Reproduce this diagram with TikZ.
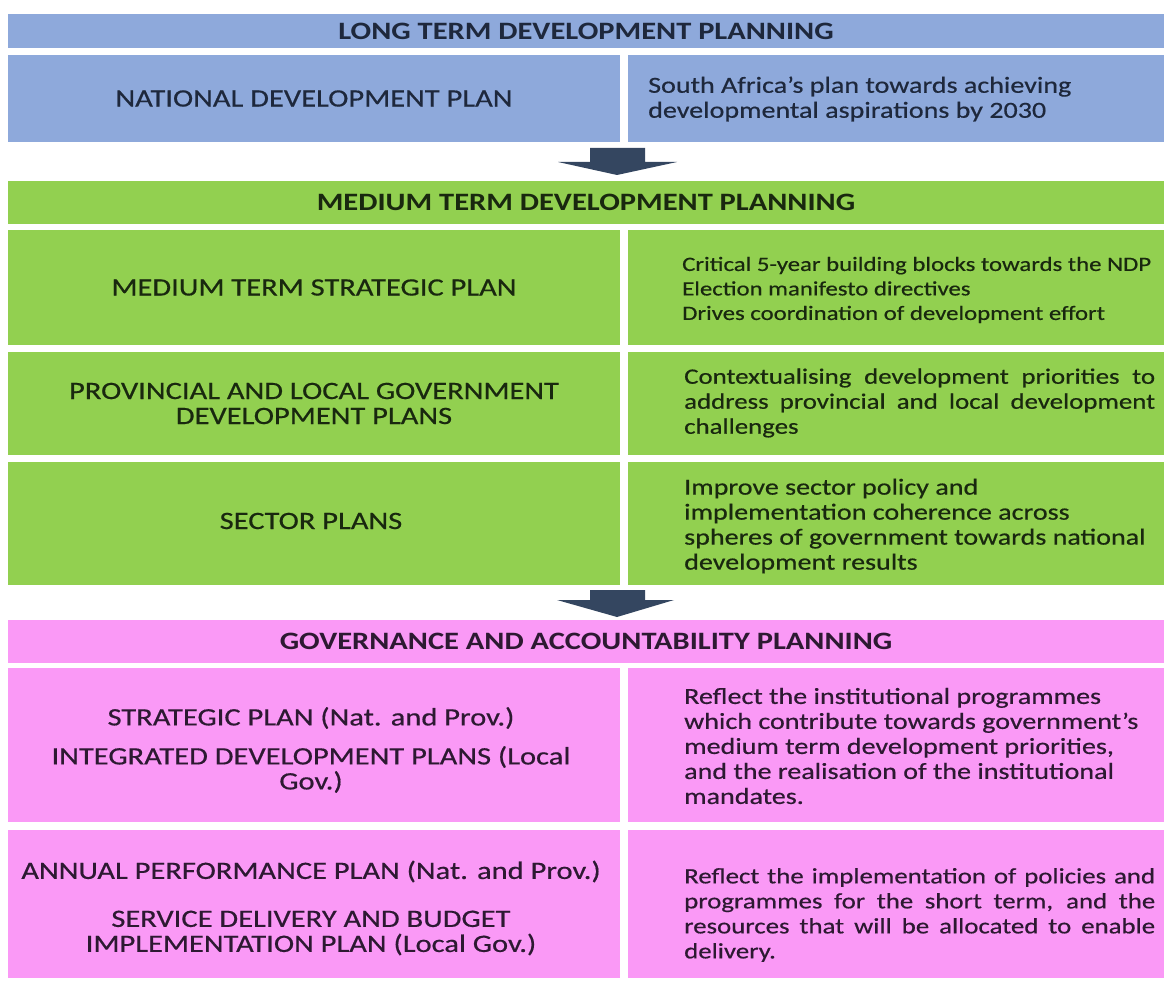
\documentclass[tikz,border=0pt]{standalone}
\usepackage{fontspec}
\setmainfont{Carlito}[FakeStretch=1.22]
\newfontfamily\bodyf{Carlito}[FakeStretch=1.22,FakeBold=0.5]
\begin{document}
\begin{tikzpicture}[x=1pt,y=-1pt,
  cell/.style={draw=none,inner sep=0pt,outer sep=0pt,anchor=north west,align=center},
  hdr/.style={font={\fontsize{25}{25}\selectfont\bfseries}},
  txt/.style={font={\bodyf\fontsize{25}{25}\selectfont}},
  ctxt/.style={align=center,inner sep=0pt,font={\bodyf\fontsize{25}{25}\selectfont}},
  rtxt/.style={anchor=west,align=left,inner sep=0pt,font={\bodyf\fontsize{23}{25}\selectfont}},
  blockarrow/.style={fill=arrowc,draw=none}]
\definecolor{bluec}{RGB}{142,169,219}
\definecolor{greenc}{RGB}{146,208,80}
\definecolor{pinkc}{RGB}{250,153,246}
\definecolor{arrowc}{RGB}{52,70,96}
\definecolor{tb}{RGB}{30,40,60}
\definecolor{tg}{RGB}{25,40,15}
\definecolor{tp}{RGB}{45,25,50}
\useasboundingbox[fill=white] (0,0) rectangle (1164,981);

% ---------- long term ----------
\node[cell,hdr,fill=bluec,text=tb,minimum width=1156,minimum height=34] (lh) at (8,14) {LONG TERM DEVELOPMENT PLANNING};
\node[cell,txt,fill=bluec,text=tb,minimum width=612,minimum height=87] (ndp) at (8,55) {NATIONAL DEVELOPMENT PLAN};
\node[cell,fill=bluec,minimum width=536,minimum height=87] (ndpd) at (628,55) {};
\node[rtxt,text=tb] (ndpt) at (648,99) {South Africa’s plan towards achieving\\developmental aspirations by 2030};

% arrow 1
\fill[blockarrow] (590,148) -- (645,148) -- (645,162) -- (677,162) -- (617,175) -- (558,162) -- (590,162) -- cycle;

% ---------- medium term ----------
\node[cell,hdr,fill=greenc,text=tg,minimum width=1156,minimum height=43] (mh) at (8,181) {MEDIUM TERM DEVELOPMENT PLANNING};
\node[cell,txt,fill=greenc,text=tg,minimum width=612,minimum height=115] (mtsp) at (8,230) {MEDIUM TERM STRATEGIC PLAN};
\node[cell,fill=greenc,minimum width=536,minimum height=115] (mtspd) at (628,230) {};
\node[rtxt,text=tg,font={\bodyf\fontsize{20.3}{24.5}\selectfont}] (mtspt) at (682,290) {Critical 5-year building blocks towards the NDP\\Election manifesto directives\\Drives coordination of development effort};

\node[cell,txt,fill=greenc,text=tg,minimum width=612,minimum height=103] (plg) at (8,352) {PROVINCIAL AND LOCAL GOVERNMENT\\DEVELOPMENT PLANS};
\node[cell,fill=greenc,minimum width=536,minimum height=103] (plgd) at (628,352) {};
\node[rtxt,text=tg,font={\bodyf\fontsize{22}{25}\selectfont}] (plgt) at (684,403) {\makebox[471pt][s]{Contextualising development priorities to}\\\makebox[471pt][s]{address provincial and local development}\\challenges};

\node[cell,fill=greenc,minimum width=612,minimum height=123] (sp) at (8,462) {};
\node[ctxt,text=tg] (spl) at (311,521) {SECTOR PLANS};
\node[cell,fill=greenc,minimum width=536,minimum height=123] (spd) at (628,462) {};
\node[rtxt,text=tg] (spt) at (684,526) {Improve sector policy and\\implementation coherence across\\spheres of government towards national\\development results};

% arrow 2
\fill[blockarrow] (590,590) -- (645,590) -- (645,600) -- (674,600) -- (617,617) -- (557,600) -- (590,600) -- cycle;

% ---------- governance ----------
\node[cell,hdr,fill=pinkc,text=tp,minimum width=1156,minimum height=43] (gh) at (8,620) {GOVERNANCE AND ACCOUNTABILITY PLANNING};
\node[cell,fill=pinkc,minimum width=612,minimum height=154] (stp) at (8,668) {};
\node[ctxt,text=tp] (stpl) at (311,750) {STRATEGIC PLAN (Nat. and Prov.)\\[14pt]INTEGRATED DEVELOPMENT PLANS (Local\\Gov.)};
\node[cell,fill=pinkc,minimum width=536,minimum height=154] (stpd) at (628,668) {};
\node[rtxt,text=tp] (stpt) at (684,746) {Reflect the institutional programmes\\which contribute towards government’s\\medium term development priorities,\\and the realisation of the institutional\\mandates.};

\node[cell,fill=pinkc,minimum width=612,minimum height=148] (app) at (8,830) {};
\node[ctxt,text=tp] (appl) at (311,908) {ANNUAL PERFORMANCE PLAN (Nat. and Prov.)\\[23pt]SERVICE DELIVERY AND BUDGET\\IMPLEMENTATION PLAN (Local Gov.)};
\node[cell,fill=pinkc,minimum width=536,minimum height=148] (appd) at (628,830) {};
\node[rtxt,text=tp,font={\bodyf\fontsize{22}{25}\selectfont}] (appt) at (684,915) {\makebox[471pt][s]{Reflect the implementation of policies and}\\\makebox[471pt][s]{programmes for the short term, and the}\\\makebox[471pt][s]{resources that will be allocated to enable}\\delivery.};
\end{tikzpicture}
\end{document}
